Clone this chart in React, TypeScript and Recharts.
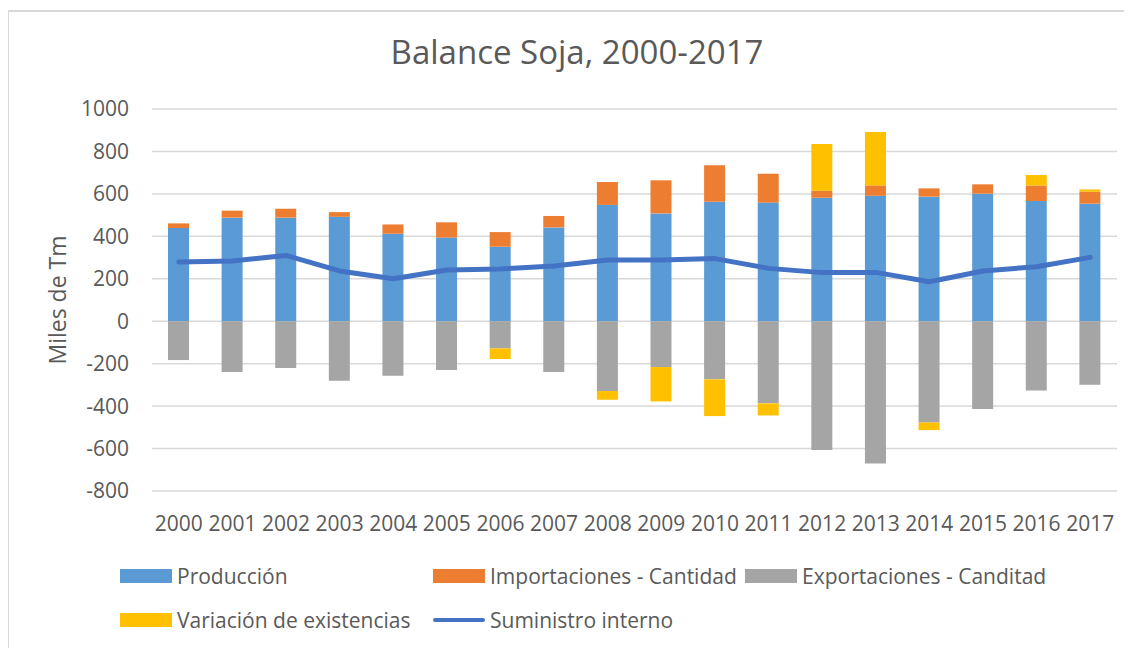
import { Bar, ComposedChart, Line, XAxis, YAxis, CartesianGrid } from "recharts"

const years = ["2000", "2001", "2002", "2003", "2004", "2005", "2006", "2007", "2008", "2009", "2010", "2011", "2012", "2013", "2014", "2015", "2016", "2017"]
const produccion = [439, 488, 488, 492, 412, 394, 351, 442, 548, 508, 563, 559, 582, 591, 587, 601, 566, 554]
const importaciones = [22, 33, 42, 22, 44, 72, 69, 54, 108, 156, 172, 136, 33, 49, 39, 44, 73, 56]
const exportaciones = [-183, -239, -220, -280, -257, -230, -128, -239, -329, -216, -274, -387, -607, -670, -477, -414, -326, -299]
const variacion = [0, 0, 0, 0, 0, 0, -50, 0, -41, -162, -173, -57, 220, 252, -36, 0, 50, 11]
const suministro = [279, 284, 310, 237, 200, 241, 246, 260, 288, 288, 295, 249, 229, 230, 186, 237, 257, 301]
const yTicks = [-800, -600, -400, -200, 0, 200, 400, 600, 800, 1000]

const data = years.map((year, i) => ({
  year,
  produccion: produccion[i],
  importaciones: importaciones[i],
  exportaciones: exportaciones[i],
  variacion: variacion[i],
  suministro: suministro[i],
}))

const FONT = "'Open Sans', sans-serif"
const TEXT = "#595959"

const legendItems = [
  { name: "Producción", color: "#5B9BD5", left: 111, top: 564, line: false },
  { name: "Importaciones - Cantidad", color: "#ED7D31", left: 424, top: 564, line: false },
  { name: "Exportaciones - Canditad", color: "#A5A5A5", left: 736, top: 564, line: false },
  { name: "Variación de existencias", color: "#FFC000", left: 111, top: 608, line: false },
  { name: "Suministro interno", color: "#4472C4", left: 424, top: 608, line: true },
]

function YLabel(props: any) {
  const { x, y, height } = props.viewBox
  const cx = x - 15
  const cy = y + height / 2
  return (
    <text
      x={cx}
      y={cy}
      transform={`rotate(-90 ${cx} ${cy})`}
      textAnchor="middle"
      dominantBaseline="central"
      fill={TEXT}
      fontSize={23}
      fontFamily={FONT}
    >
      Miles de Tm
    </text>
  )
}

export default function App() {
  return (
    <div
      style={{
        position: "relative",
        marginLeft: -1,
        marginTop: 2,
        width: 1130,
        height: 645,
        border: "2px solid #D9D9D9",
        background: "#fff",
        fontFamily: FONT,
      }}
    >
      <div
        style={{
          position: "absolute",
          top: 20,
          left: 0,
          width: 1136,
          textAlign: "center",
          fontSize: 33,
          color: TEXT,
          lineHeight: "40px",
        }}
      >
        Balance Soja, 2000-2017
      </div>
      <ComposedChart
        width={1120}
        height={640}
        data={data}
        stackOffset="sign"
        margin={{ top: 97, right: 12, bottom: 101, left: 63 }}
      >
        <CartesianGrid vertical={false} stroke="#D9D9D9" strokeWidth={1.5} />
        <XAxis
          dataKey="year"
          axisLine={false}
          tickLine={false}
          tickMargin={19}
          height={60}
          interval={0}
          tick={{ fill: TEXT, fontSize: 21, fontFamily: FONT }}
        />
        <YAxis
          domain={[-800, 1000]}
          ticks={yTicks}
          width={80}
          axisLine={false}
          tickLine={false}
          tickMargin={17}
          tick={{ fill: TEXT, fontSize: 21, fontFamily: FONT }}
          label={{ content: YLabel }}
        />
        <Bar dataKey="produccion" name="Producción" stackId="a" fill="#5B9BD5" barSize={21} isAnimationActive={false} />
        <Bar dataKey="importaciones" name="Importaciones - Cantidad" stackId="a" fill="#ED7D31" barSize={21} isAnimationActive={false} />
        <Bar dataKey="exportaciones" name="Exportaciones - Canditad" stackId="a" fill="#A5A5A5" barSize={21} isAnimationActive={false} />
        <Bar dataKey="variacion" name="Variación de existencias" stackId="a" fill="#FFC000" barSize={21} isAnimationActive={false} />
        <Line
          dataKey="suministro"
          name="Suministro interno"
          stroke="#4472C4"
          strokeWidth={5}
          strokeLinecap="round"
          strokeLinejoin="round"
          dot={false}
          activeDot={false}
          isAnimationActive={false}
        />
      </ComposedChart>
      {legendItems.map((item) => (
        <div
          key={item.name}
          style={{
            position: "absolute",
            left: item.left,
            top: item.top - 15,
            height: 30,
            display: "flex",
            alignItems: "center",
            fontSize: 21,
            color: TEXT,
            whiteSpace: "nowrap",
          }}
        >
          <span
            style={{
              display: "inline-block",
              width: 52,
              height: item.line ? 4 : 14,
              borderRadius: item.line ? 2 : 0,
              background: item.color,
              marginRight: 5,
            }}
          />
          {item.name}
        </div>
      ))}
    </div>
  )
}
